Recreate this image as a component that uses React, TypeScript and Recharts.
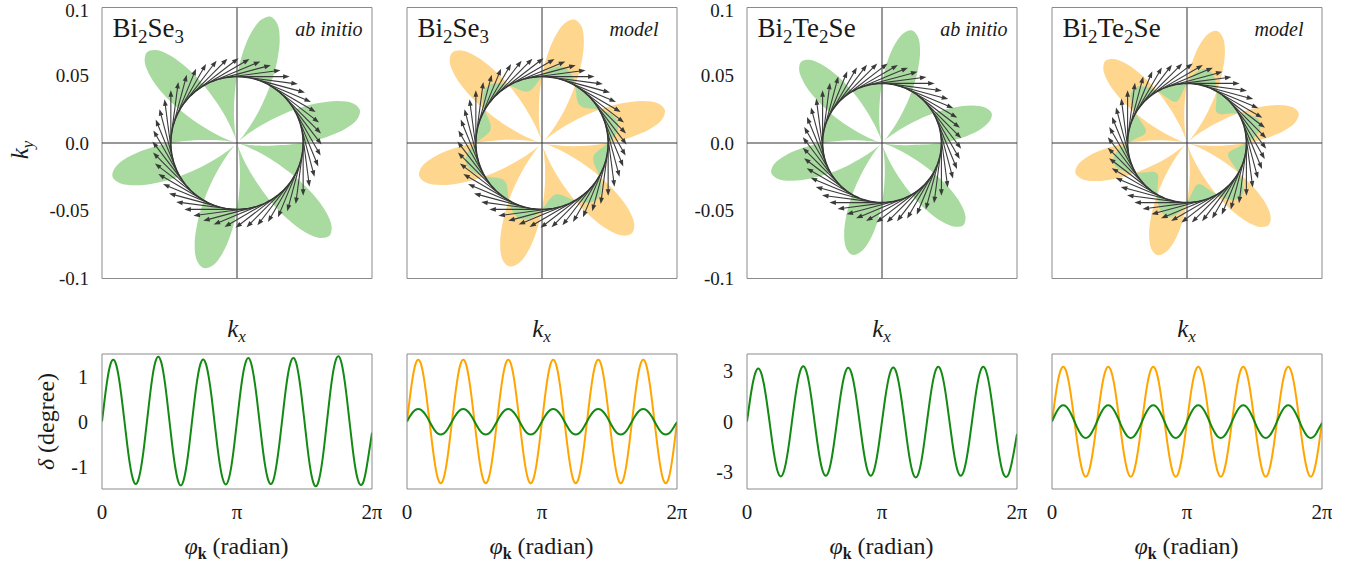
import React from 'react';
import { ScatterChart, Scatter, LineChart, Line, XAxis, YAxis } from 'recharts';

// φ_k sample positions, in steps of π/48 (0 … 2π)
const phiSteps = [
  0, 1, 2, 3, 4, 5, 6, 7, 8, 9, 10, 11, 12, 13, 14, 15, 16, 17, 18, 19, 20, 21, 22, 23, 24,
  25, 26, 27, 28, 29, 30, 31, 32, 33, 34, 35, 36, 37, 38, 39, 40, 41, 42, 43, 44, 45, 46, 47, 48,
  49, 50, 51, 52, 53, 54, 55, 56, 57, 58, 59, 60, 61, 62, 63, 64, 65, 66, 67, 68, 69, 70, 71, 72,
  73, 74, 75, 76, 77, 78, 79, 80, 81, 82, 83, 84, 85, 86, 87, 88, 89, 90, 91, 92, 93, 94, 95, 96,
];

// δ (degree)
const deltaBi2Se3AbInitio = [
  0, 0.52, 0.97, 1.27, 1.37, 1.27, 0.97, 0.52, 0.0, -0.53, -0.98, -1.28, -1.39, -1.28, -0.98, -0.53,
  0.01, 0.55, 1.02, 1.33, 1.44, 1.33, 1.02, 0.55, 0.0, -0.54, -1.0, -1.31, -1.42, -1.31, -1.0, -0.54,
  0.0, 0.53, 0.98, 1.28, 1.38, 1.27, 0.97, 0.53, -0.01, -0.54, -0.99, -1.29, -1.4, -1.29, -0.99, -0.53,
  0.01, 0.54, 1.0, 1.3, 1.41, 1.3, 0.99, 0.54, 0.0, -0.53, -0.98, -1.28, -1.39, -1.29, -0.98, -0.53,
  0.0, 0.54, 1.0, 1.3, 1.41, 1.31, 1.0, 0.54, 0.0, -0.55, -1.02, -1.33, -1.44, -1.33, -1.02, -0.55,
  0.01, 0.56, 1.03, 1.34, 1.45, 1.34, 1.02, 0.55, 0.0, -0.54, -1.0, -1.3, -1.41, -1.33, -1.05, -0.66,
  -0.25,
];
const deltaBi2Se3Model = [
  0, 0.52, 0.97, 1.27, 1.37, 1.27, 0.97, 0.52, 0, -0.52, -0.97, -1.27, -1.37, -1.27, -0.97, -0.52,
  0, 0.52, 0.97, 1.27, 1.37, 1.27, 0.97, 0.52, 0, -0.52, -0.97, -1.27, -1.37, -1.27, -0.97, -0.52,
  0, 0.52, 0.97, 1.27, 1.37, 1.27, 0.97, 0.52, 0, -0.52, -0.97, -1.27, -1.37, -1.27, -0.97, -0.52,
  0, 0.52, 0.97, 1.27, 1.37, 1.27, 0.97, 0.52, 0, -0.52, -0.97, -1.27, -1.37, -1.27, -0.97, -0.52,
  0, 0.52, 0.97, 1.27, 1.37, 1.27, 0.97, 0.52, 0, -0.52, -0.97, -1.27, -1.37, -1.27, -0.97, -0.52,
  0, 0.52, 0.97, 1.27, 1.37, 1.27, 0.97, 0.52, 0, -0.52, -0.97, -1.27, -1.37, -1.27, -0.97, -0.52,
  0,
];
const deltaBi2Se3ModelSmall = [
  0, 0.11, 0.2, 0.26, 0.28, 0.26, 0.2, 0.11, 0, -0.11, -0.21, -0.27, -0.29, -0.27, -0.21, -0.11,
  0, 0.11, 0.2, 0.26, 0.28, 0.26, 0.2, 0.11, 0, -0.11, -0.21, -0.27, -0.29, -0.27, -0.21, -0.11,
  0, 0.11, 0.2, 0.26, 0.28, 0.26, 0.2, 0.11, 0, -0.11, -0.21, -0.27, -0.29, -0.27, -0.21, -0.11,
  0, 0.11, 0.2, 0.26, 0.28, 0.26, 0.2, 0.11, 0, -0.11, -0.21, -0.27, -0.29, -0.27, -0.21, -0.11,
  0, 0.11, 0.2, 0.26, 0.28, 0.26, 0.2, 0.11, 0, -0.11, -0.21, -0.27, -0.29, -0.27, -0.21, -0.11,
  0, 0.11, 0.2, 0.26, 0.28, 0.26, 0.2, 0.11, 0, -0.11, -0.21, -0.27, -0.29, -0.27, -0.21, -0.11,
  -0.02,
];
const deltaBi2Te2SeAbInitio = [
  0, 1.2, 2.22, 2.9, 3.14, 2.9, 2.22, 1.2, 0.0, -1.25, -2.3, -3.01, -3.26, -3.01, -2.3, -1.25,
  0.02, 1.26, 2.32, 3.03, 3.28, 3.03, 2.32, 1.26, 0.0, -1.23, -2.28, -2.98, -3.22, -2.98, -2.28, -1.23,
  0.0, 1.22, 2.25, 2.94, 3.18, 2.94, 2.25, 1.22, 0.0, -1.23, -2.28, -2.98, -3.22, -2.98, -2.28, -1.23,
  0.01, 1.23, 2.26, 2.96, 3.2, 2.96, 2.26, 1.23, 0.0, -1.27, -2.35, -3.07, -3.32, -3.07, -2.35, -1.27,
  0.0, 1.24, 2.29, 2.99, 3.24, 2.99, 2.29, 1.24, 0.0, -1.23, -2.28, -2.98, -3.22, -2.98, -2.28, -1.23,
  0.0, 1.24, 2.29, 2.99, 3.24, 2.99, 2.29, 1.24, 0.0, -1.26, -2.32, -3.03, -3.28, -3.13, -2.55, -1.7,
  -0.74,
];
const deltaBi2Te2SeModel = [
  0, 1.24, 2.3, 3.0, 3.25, 3.0, 2.3, 1.24, 0, -1.25, -2.31, -3.02, -3.27, -3.02, -2.31, -1.25,
  0, 1.24, 2.3, 3.0, 3.25, 3.0, 2.3, 1.24, 0, -1.25, -2.31, -3.02, -3.27, -3.02, -2.31, -1.25,
  0, 1.24, 2.3, 3.0, 3.25, 3.0, 2.3, 1.24, 0, -1.25, -2.31, -3.02, -3.27, -3.02, -2.31, -1.25,
  0, 1.24, 2.3, 3.0, 3.25, 3.0, 2.3, 1.24, 0, -1.25, -2.31, -3.02, -3.27, -3.02, -2.31, -1.25,
  0, 1.24, 2.3, 3.0, 3.25, 3.0, 2.3, 1.24, 0, -1.25, -2.31, -3.02, -3.27, -3.02, -2.31, -1.25,
  0, 1.24, 2.3, 3.0, 3.25, 3.0, 2.3, 1.24, 0, -1.25, -2.31, -3.02, -3.27, -3.02, -2.31, -1.25,
  0,
];
const deltaBi2Te2SeModelSmall = [
  0, 0.37, 0.68, 0.89, 0.96, 0.89, 0.68, 0.37, 0, -0.38, -0.69, -0.91, -0.98, -0.91, -0.69, -0.38,
  0, 0.37, 0.68, 0.89, 0.96, 0.89, 0.68, 0.37, 0, -0.38, -0.69, -0.91, -0.98, -0.91, -0.69, -0.38,
  0, 0.37, 0.68, 0.89, 0.96, 0.89, 0.68, 0.37, 0, -0.38, -0.69, -0.91, -0.98, -0.91, -0.69, -0.38,
  0, 0.37, 0.68, 0.89, 0.96, 0.89, 0.68, 0.37, 0, -0.38, -0.69, -0.91, -0.98, -0.91, -0.69, -0.38,
  0, 0.37, 0.68, 0.89, 0.96, 0.89, 0.68, 0.37, 0, -0.38, -0.69, -0.91, -0.98, -0.91, -0.69, -0.38,
  0, 0.37, 0.68, 0.89, 0.96, 0.89, 0.68, 0.37, 0, -0.38, -0.69, -0.91, -0.98, -0.91, -0.69, -0.38,
  -0.1,
];

// Fermi contour radius and δ → k scale used in the upper panels
const fermiRadius = { se: 0.049, te: 0.044 };
const deltaToK = { se: 0.033, te: 0.0128 };
const spinArrowLength = 0.039;

const kTicks = [-0.1, -0.05, 0, 0.05, 0.1];
const kMinorTicks = [-0.1, -0.075, -0.05, -0.025, 0, 0.025, 0.05, 0.075, 0.1];
const phiTicks = [0, 12, 24, 36, 48, 60, 72, 84, 96];
const phiLabelTicks = [0, 48, 96];
const phiTickLabels: Record<number, string> = { 0: '0', 48: 'π', 96: '2π' };
const deltaTicks = { se: [-1.5, -1, -0.5, 0, 0.5, 1, 1.5], te: [-3, -1.5, 0, 1.5, 3] };
const deltaLabelTicks = { se: [-1, 0, 1], te: [-3, 0, 3] };
const deltaDomain = { se: [-1.5, 1.5], te: [-4, 4] };

const SERIF = 'Liberation Serif';
const FRAME = '#8a8a8a';
const INK = '#1a1a1a';
const GREEN_FILL = '#a9dba1';
const ORANGE_FILL = '#fed68e';
const GREEN_LINE = '#138a13';
const ORANGE_LINE = '#ffa500';

type Pt = { x: number; y: number };

const angleOf = (step: number) => (step * Math.PI) / 48;
const polar = (r: number, step: number): Pt => ({
  x: r * Math.cos(angleOf(step)),
  y: r * Math.sin(angleOf(step)),
});
const ring = phiSteps.slice(0, 96);

function xorRows(delta: number[], kF: number, scale: number) {
  return [...ring.map((s) => polar(kF + scale * delta[s], s)), ...ring.map((s) => polar(kF, s))];
}
const contourRows = (kF: number) => ring.map((s) => polar(kF, s));
function spinRows(kF: number) {
  const rows: Pt[] = [];
  ring.filter((s) => s % 2 === 0).forEach((s) => {
    const p = polar(kF, s);
    const a = angleOf(s);
    rows.push(p, { x: p.x + spinArrowLength * Math.sin(a), y: p.y - spinArrowLength * Math.cos(a) });
  });
  return rows;
}
const axisRows: Pt[] = [
  { x: -0.1, y: 0 }, { x: 0.1, y: 0 },
  { x: 0, y: -0.1 }, { x: 0, y: 0.1 },
];

// closed centripetal Catmull-Rom through pixel points
function closedPath(p: Pt[]) {
  const n = p.length;
  const dist = (a: Pt, b: Pt) => Math.hypot(b.x - a.x, b.y - a.y);
  let d = `M${p[0].x},${p[0].y}`;
  for (let i = 0; i < n; i++) {
    const p0 = p[(i - 1 + n) % n], p1 = p[i], p2 = p[(i + 1) % n], p3 = p[(i + 2) % n];
    const l01 = dist(p0, p1), l12 = dist(p1, p2), l23 = dist(p2, p3);
    const a01 = Math.sqrt(l01), a12 = Math.sqrt(l12), a23 = Math.sqrt(l23);
    let c1x = p1.x, c1y = p1.y, c2x = p2.x, c2y = p2.y;
    if (a01 > 1e-6) {
      const a = 2 * l01 + 3 * a01 * a12 + l12;
      const m = 3 * a01 * (a01 + a12);
      c1x = (p1.x * a - p0.x * l12 + p2.x * l01) / m;
      c1y = (p1.y * a - p0.y * l12 + p2.y * l01) / m;
    }
    if (a23 > 1e-6) {
      const b = 2 * l23 + 3 * a23 * a12 + l12;
      const m = 3 * a23 * (a23 + a12);
      c2x = (p2.x * b + p1.x * l23 - p3.x * l12) / m;
      c2y = (p2.y * b + p1.y * l23 - p3.y * l12) / m;
    }
    d += `C${c1x},${c1y},${c2x},${c2y},${p2.x},${p2.y}`;
  }
  return d + 'Z';
}

const noDot = () => <g />;

const xorFill = (color: string) => (props: any) => {
  const pts: Pt[] = props.points;
  const half = pts.length / 2;
  const d = closedPath(pts.slice(0, half)) + closedPath(pts.slice(half));
  return <path d={d} fill={color} fillRule="evenodd" stroke="none" />;
};

const contourLine = (props: any) => (
  <path d={closedPath(props.points)} fill="none" stroke="#2e2e2e" strokeWidth={1.5} />
);

const segments = (withHead: boolean, color: string, width: number) => (props: any) => {
  const pts: Pt[] = props.points;
  const out: React.ReactNode[] = [];
  for (let i = 0; i + 1 < pts.length; i += 2) {
    const a = pts[i], b = pts[i + 1];
    if (!withHead) {
      out.push(<line key={i} x1={a.x} y1={a.y} x2={b.x} y2={b.y} stroke={color} strokeWidth={width} />);
      continue;
    }
    const len = Math.hypot(b.x - a.x, b.y - a.y) || 1;
    const ux = (b.x - a.x) / len, uy = (b.y - a.y) / len;
    const hl = 6.5, hw = 2.4;
    const bx = b.x - ux * hl, by = b.y - uy * hl;
    out.push(
      <g key={i}>
        <line x1={a.x} y1={a.y} x2={bx + ux} y2={by + uy} stroke={color} strokeWidth={width} />
        <path d={`M${b.x},${b.y}L${bx - uy * hw},${by + ux * hw}L${bx + uy * hw},${by - ux * hw}Z`} fill={color} />
      </g>
    );
  }
  return <g>{out}</g>;
};

const columns = [
  { left: 101.5, mat: 'se' as const, name: ['Bi', '2', 'Se', '3'], kind: 'ab initio', main: deltaBi2Se3AbInitio, extra: null as number[] | null, showY: true },
  { left: 406.5, mat: 'se' as const, name: ['Bi', '2', 'Se', '3'], kind: 'model', main: deltaBi2Se3Model, extra: deltaBi2Se3ModelSmall, showY: false },
  { left: 746.5, mat: 'te' as const, name: ['Bi', '2', 'Te', '2', 'Se'], kind: 'ab initio', main: deltaBi2Te2SeAbInitio, extra: null as number[] | null, showY: true },
  { left: 1051.5, mat: 'te' as const, name: ['Bi', '2', 'Te', '2', 'Se'], kind: 'model', main: deltaBi2Te2SeModel, extra: deltaBi2Te2SeModelSmall, showY: false },
];

const PLOT_W = 270;
const tickFont = (size: number) => ({ fontSize: size, fill: INK, fontFamily: SERIF });
const kLabel = (v: number) => (v === 0 ? '0.0' : String(v));

// y tick labels of the k panels; the topmost one is nudged so it stays on the page
const KYTick = (props: any) => {
  const v = props.payload.value as number;
  return (
    <text x={props.x} y={props.y + (v === 0.1 ? 3 : 0)} dy="0.35em" textAnchor="end" fontSize={19} fill={INK} fontFamily={SERIF}>
      {kLabel(v)}
    </text>
  );
};

function KPanel({ col }: { col: (typeof columns)[number] }) {
  const kF = fermiRadius[col.mat];
  const scale = deltaToK[col.mat];
  const isModel = col.extra !== null;
  const common = { type: 'number' as const, domain: [-0.1, 0.1], allowDataOverflow: true, interval: 0 as const };
  return (
    <div style={{ position: 'absolute', left: col.left - 60, top: -10 }}>
      <ScatterChart width={340} height={320} margin={{ top: 17.5, right: 10, bottom: 1.5, left: col.showY ? 10 : 60 }}>
        <XAxis xAxisId="x" dataKey="x" {...common} ticks={kMinorTicks} orientation="bottom" mirror height={10} tick={false} tickSize={5} stroke={FRAME} />
        <XAxis xAxisId="xt" {...common} ticks={kMinorTicks} orientation="top" mirror height={10} tick={false} tickSize={5} stroke={FRAME} />
        <XAxis xAxisId="xl" {...common} ticks={kTicks} orientation="bottom" height={30} tickLine={false} axisLine={false} tickSize={0} tickMargin={12.5}
          tick={tickFont(19)} tickFormatter={kLabel} />
        <YAxis yAxisId="y" dataKey="y" {...common} ticks={kMinorTicks} orientation="left" mirror width={10} tick={false} tickSize={5} stroke={FRAME} />
        <YAxis yAxisId="yr" {...common} ticks={kMinorTicks} orientation="right" mirror width={10} tick={false} tickSize={5} stroke={FRAME} />
        {col.showY && (
          <YAxis yAxisId="yl" {...common} ticks={kTicks} orientation="left" width={50} tickLine={false} axisLine={false} tickSize={0} tickMargin={13}
            tick={KYTick} />
        )}
        <Scatter xAxisId="x" yAxisId="y" data={xorRows(col.main, kF, scale)} shape={noDot}
          line={xorFill(isModel ? ORANGE_FILL : GREEN_FILL)} isAnimationActive={false} />
        {col.extra && (
          <Scatter xAxisId="x" yAxisId="y" data={xorRows(col.extra, kF, scale)} shape={noDot}
            line={xorFill(GREEN_FILL)} isAnimationActive={false} />
        )}
        <Scatter xAxisId="x" yAxisId="y" data={axisRows} shape={noDot} line={segments(false, '#333', 1)} isAnimationActive={false} />
        <Scatter xAxisId="x" yAxisId="y" data={contourRows(kF)} shape={noDot} line={contourLine} isAnimationActive={false} />
        <Scatter xAxisId="x" yAxisId="y" data={spinRows(kF)} shape={noDot} line={segments(true, '#3a3a3a', 1.1)} isAnimationActive={false} />
      </ScatterChart>
    </div>
  );
}

function DeltaPanel({ col }: { col: (typeof columns)[number] }) {
  const rows = phiSteps.map((s, i) => ({ s, main: col.main[i], extra: col.extra ? col.extra[i] : null }));
  const yDomain = deltaDomain[col.mat];
  const xc = { type: 'number' as const, domain: [0, 96], allowDataOverflow: true, interval: 0 as const };
  const yc = { type: 'number' as const, domain: yDomain, allowDataOverflow: true, interval: 0 as const };
  const isModel = col.extra !== null;
  return (
    <div style={{ position: 'absolute', left: col.left - 60, top: 344 }}>
      <LineChart width={340} height={180} data={rows} margin={{ top: 10, right: 10, bottom: 1, left: col.showY ? 10 : 60 }}>
        <XAxis xAxisId="x" dataKey="s" {...xc} ticks={phiTicks} orientation="bottom" mirror height={10} tick={false} tickSize={5} stroke={FRAME} />
        <XAxis xAxisId="xt" {...xc} ticks={phiTicks} orientation="top" mirror height={10} tick={false} tickSize={5} stroke={FRAME} />
        <XAxis xAxisId="xl" {...xc} ticks={phiLabelTicks} orientation="bottom" height={34} tickLine={false} axisLine={false} tickSize={0} tickMargin={15}
          tick={tickFont(21)} tickFormatter={(v: number) => phiTickLabels[v] ?? ''} />
        <YAxis yAxisId="y" {...yc} ticks={deltaTicks[col.mat]} orientation="left" mirror width={10} tick={false} tickSize={5} stroke={FRAME} />
        <YAxis yAxisId="yr" {...yc} ticks={deltaTicks[col.mat]} orientation="right" mirror width={10} tick={false} tickSize={5} stroke={FRAME} />
        {col.showY && (
          <YAxis yAxisId="yl" {...yc} ticks={deltaLabelTicks[col.mat]} orientation="left" width={50} tickLine={false} axisLine={false} tickSize={0} tickMargin={14}
            tick={tickFont(20)} />
        )}
        <Line xAxisId="x" yAxisId="y" dataKey="main" type="natural" stroke={isModel ? ORANGE_LINE : GREEN_LINE} strokeWidth={2} dot={false} isAnimationActive={false} />
        {isModel && (
          <Line xAxisId="x" yAxisId="y" dataKey="extra" type="natural" stroke={GREEN_LINE} strokeWidth={2} dot={false} isAnimationActive={false} />
        )}
      </LineChart>
    </div>
  );
}

function Labels() {
  return (
    <svg width={1364} height={572} style={{ position: 'absolute', left: 0, top: 0, pointerEvents: 'none' }} fontFamily={SERIF} fill={INK}>
      {columns.map((col, i) => {
        const cx = col.left + PLOT_W / 2;
        const right = col.left + PLOT_W;
        return (
          <g key={i}>
            <text x={col.left + 11} y={37} fontSize={27}>
              {col.name.map((part, j) =>
                j % 2 === 1 ? (
                  <tspan key={j} fontSize={19} dy={6}>{part}</tspan>
                ) : (
                  <tspan key={j} dy={j === 0 ? 0 : -6}>{part}</tspan>
                )
              )}
            </text>
            <text x={col.kind === 'model' ? right - 18 : right - 9} y={36} fontSize={20} fontStyle="italic" textAnchor="end">
              {col.kind}
            </text>
            <text x={cx} y={337} fontSize={25} fontStyle="italic" textAnchor="middle">
              k<tspan fontSize={17} dy={5}>x</tspan>
            </text>
            <text x={cx} y={554} fontSize={24} textAnchor="middle">
              <tspan fontStyle="italic">φ</tspan>
              <tspan fontSize={16} fontWeight="bold" dy={5}>k</tspan>
              <tspan dy={-5}> (radian)</tspan>
            </text>
          </g>
        );
      })}
      <text transform="translate(28,150) rotate(-90)" fontSize={25} fontStyle="italic" textAnchor="middle">
        k<tspan fontSize={17} dy={5}>y</tspan>
      </text>
      <text transform="translate(54,421.5) rotate(-90)" fontSize={24} textAnchor="middle">
        <tspan fontStyle="italic">δ</tspan>
        <tspan> (degree)</tspan>
      </text>
    </svg>
  );
}

export default function App() {
  return (
    <div style={{ position: 'absolute', left: 0, top: 0, width: 1364, height: 572, background: '#fff', fontFamily: SERIF }}>
      {columns.map((col, i) => (
        <KPanel key={`k${i}`} col={col} />
      ))}
      {columns.map((col, i) => (
        <DeltaPanel key={`d${i}`} col={col} />
      ))}
      <Labels />
    </div>
  );
}
